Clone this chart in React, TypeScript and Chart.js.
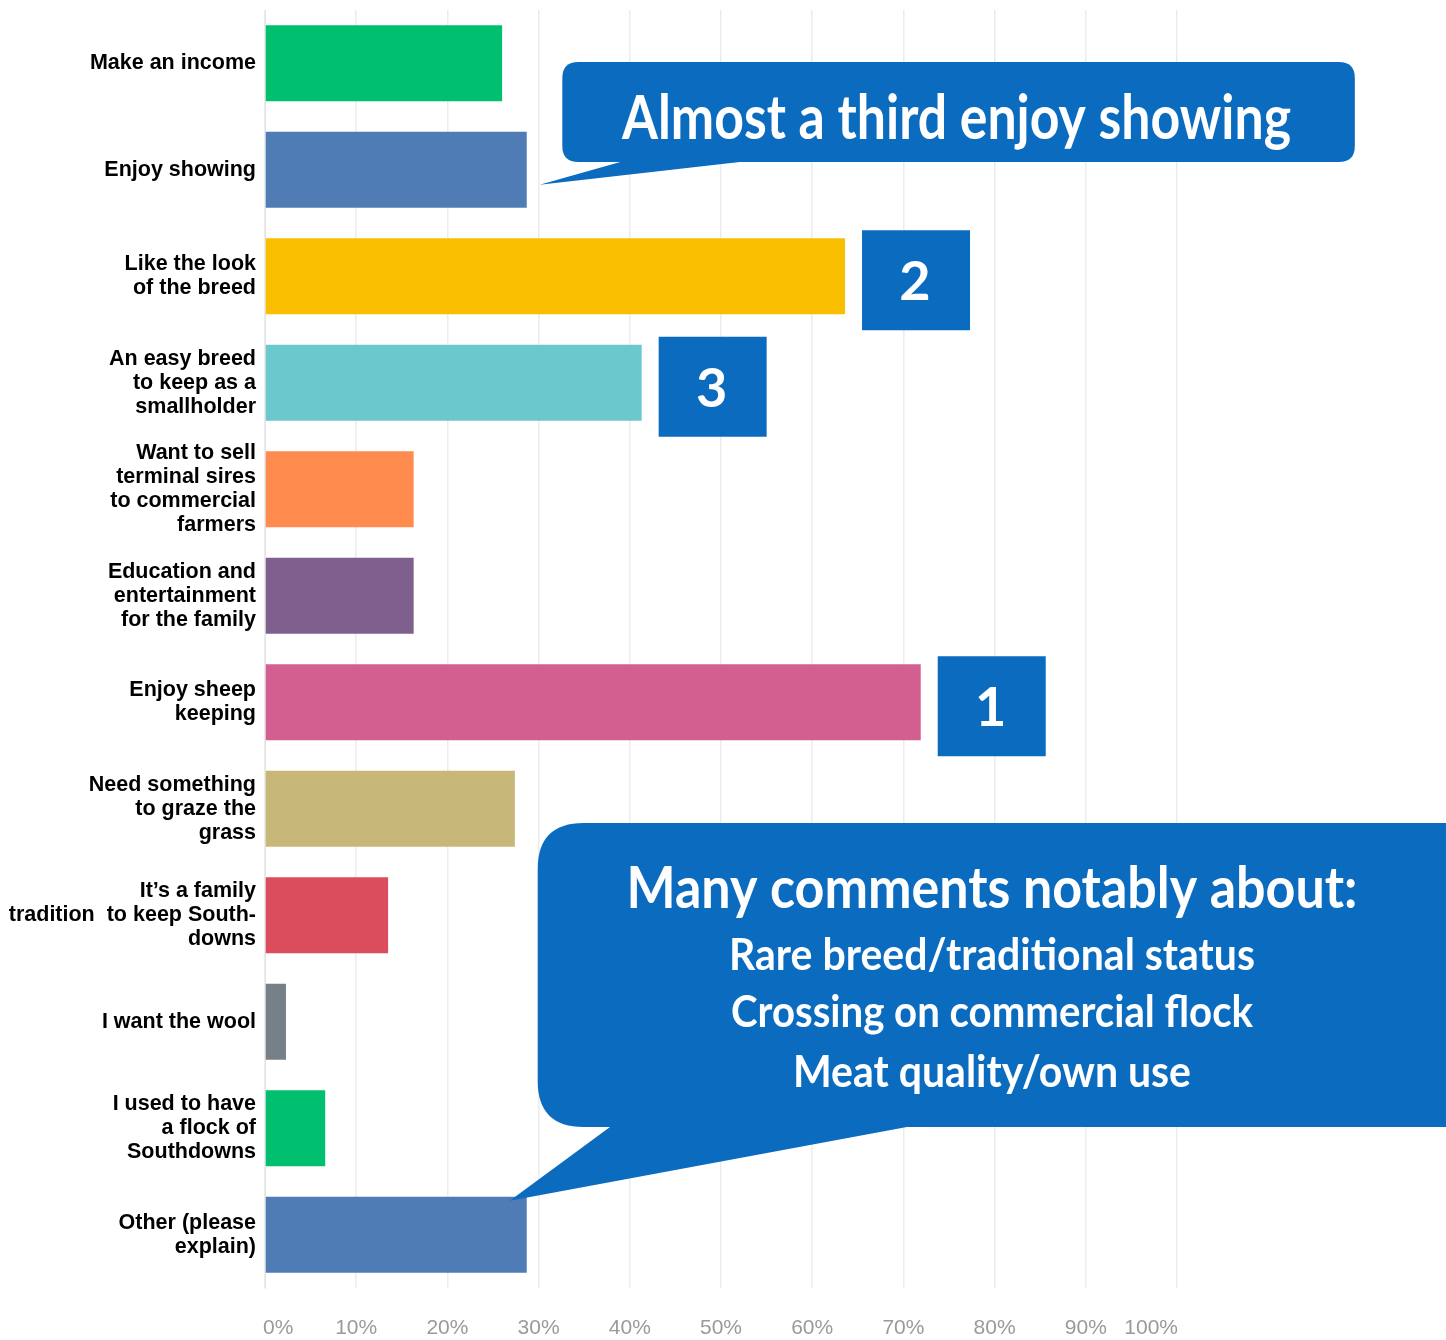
import React, { useEffect, useRef } from "react";
import { Chart, registerables } from "chart.js";

Chart.register(...registerables);

const categories: (string | string[])[] = [
  "Make an income",
  "Enjoy showing",
  ["Like the look", "of the breed"],
  ["An easy breed", "to keep as a", "smallholder"],
  ["Want to sell", "terminal sires", "to commercial", "farmers"],
  ["Education and", "entertainment", "for the family"],
  ["Enjoy sheep", "keeping"],
  ["Need something", "to graze the", "grass"],
  ["It\u2019s a family", "tradition  to keep South-", "downs"],
  "I want the wool",
  ["I used to have", "a flock of", "Southdowns"],
  ["Other (please", "explain)"],
];

const values: number[] = [26.0, 28.7, 63.6, 41.3, 16.3, 16.3, 71.9, 27.4, 13.5, 2.3, 6.6, 28.7];

const barColors: string[] = [
  "#00bf6f", "#507cb6", "#f9be00", "#6bc8cd", "#ff8b4f", "#7f5f8e",
  "#d25f90", "#c7b879", "#db4d5c", "#768086", "#00bf6f", "#507cb6",
];

const ranks: (number | null)[] = [null, null, 2, 3, null, null, 1, null, null, null, null, null];

const tickValues: number[] = [0, 10, 20, 30, 40, 50, 60, 70, 80, 90, 100];

const calloutTop: string = "Almost a third enjoy showing";
const calloutBottom: string[] = [
  "Many comments notably about:",
  "Rare breed/traditional status",
  "Crossing on commercial flock",
  "Meat quality/own use",
];

const BLUE = "#0b6cbf";

function roundRect(ctx: CanvasRenderingContext2D, x: number, y: number, w: number, h: number, r: number) {
  ctx.beginPath();
  ctx.moveTo(x + r, y);
  ctx.lineTo(x + w - r, y);
  ctx.quadraticCurveTo(x + w, y, x + w, y + r);
  ctx.lineTo(x + w, y + h - r);
  ctx.quadraticCurveTo(x + w, y + h, x + w - r, y + h);
  ctx.lineTo(x + r, y + h);
  ctx.quadraticCurveTo(x, y + h, x, y + h - r);
  ctx.lineTo(x, y + r);
  ctx.quadraticCurveTo(x, y, x + r, y);
  ctx.closePath();
}

function drawFit(ctx: CanvasRenderingContext2D, text: string, cx: number, by: number, font: string, targetW: number) {
  ctx.save();
  ctx.font = font;
  const w = ctx.measureText(text).width;
  ctx.translate(cx, by);
  ctx.scale(targetW / w, 1);
  ctx.textAlign = "center";
  ctx.textBaseline = "alphabetic";
  ctx.fillStyle = "#ffffff";
  ctx.fillText(text, 0, 0);
  ctx.restore();
}

const annotationPlugin = {
  id: "annotations",
  afterDatasetsDraw(chart: any) {
    const ctx: CanvasRenderingContext2D = chart.ctx;
    const xs = chart.scales.x;
    const ys = chart.scales.y;
    ctx.save();

    // x tick labels (ends pulled inward like the reference)
    ctx.fillStyle = "#9a9a9a";
    ctx.font = "21px 'Liberation Sans'";
    ctx.textBaseline = "middle";
    tickValues.forEach((v, i) => {
      let px = xs.getPixelForValue(v);
      ctx.textAlign = "center";
      if (i === 0) {
        ctx.textAlign = "left";
        px = px - 2;
      } else if (i === tickValues.length - 1) {
        ctx.textAlign = "right";
        px = px + 1;
      }
      ctx.fillText(v + "%", px, chart.chartArea.bottom + 40);
    });

    // rank boxes
    ranks.forEach((r, i) => {
      if (r === null) return;
      const xe = xs.getPixelForValue(values[i]);
      const yc = ys.getPixelForValue(i) + 4;
      const bx = xe + 17;
      ctx.fillStyle = BLUE;
      ctx.fillRect(bx, yc - 50, 108, 100);
      ctx.fillStyle = "#ffffff";
      ctx.font = "bold 54px Lato";
      ctx.textAlign = "center";
      ctx.textBaseline = "alphabetic";
      ctx.fillText(String(r), bx + 53, yc + 20);
    });

    // top callout, pointing at "Enjoy showing"
    const showIdx = 1;
    const tipX1 = xs.getPixelForValue(values[showIdx]) + 13;
    const tipY1 = ys.getPixelForValue(showIdx) + 15;
    const b1x = xs.getPixelForValue(32.6);
    const b1r = xs.getPixelForValue(119.5);
    const b1y = 62;
    const b1h = 100;
    ctx.fillStyle = BLUE;
    roundRect(ctx, b1x, b1y, b1r - b1x, b1h, 16);
    ctx.fill();
    ctx.beginPath();
    ctx.moveTo(b1x + 65, b1y + b1h - 2);
    ctx.lineTo(tipX1, tipY1);
    ctx.lineTo(b1x + 195, b1y + b1h - 2);
    ctx.closePath();
    ctx.fill();
    drawFit(ctx, calloutTop, (b1x + b1r) / 2 - 2, 139, "bold 62px Lato", 669);

    // bottom callout, pointing at "Other"
    const othIdx = values.length - 1;
    const tipX2 = xs.getPixelForValue(values[othIdx]) - 17;
    const tipY2 = ys.getPixelForValue(othIdx) - 34;
    const b2x = xs.getPixelForValue(29.9);
    const b2r = 1446 + 60;
    const b2y = 823;
    const b2h = 304;
    ctx.fillStyle = BLUE;
    roundRect(ctx, b2x, b2y, b2r - b2x, b2h, 46);
    ctx.fill();
    ctx.beginPath();
    ctx.moveTo(b2x + 75, b2y + b2h - 2);
    ctx.lineTo(tipX2, tipY2);
    ctx.lineTo(b2x + 380, b2y + b2h - 2);
    ctx.closePath();
    ctx.fill();
    const cx2 = 992;
    drawFit(ctx, calloutBottom[0], cx2, 908, "bold 58px Lato", 731);
    drawFit(ctx, calloutBottom[1], cx2, 970, "bold 44px Lato", 526);
    drawFit(ctx, calloutBottom[2], cx2, 1027, "bold 44px Lato", 522);
    drawFit(ctx, calloutBottom[3], cx2, 1087, "bold 44px Lato", 398);
    ctx.restore();
  },
};

export default function App() {
  const ref = useRef<HTMLCanvasElement | null>(null);
  useEffect(() => {
    if (!ref.current) return;
    const chart = new Chart(ref.current, {
      type: "bar",
      data: {
        labels: categories,
        datasets: [
          {
            data: values,
            backgroundColor: barColors,
            borderWidth: 0,
            categoryPercentage: 0.715,
            barPercentage: 1,
          },
        ],
      },
      options: {
        indexAxis: "y",
        animation: false,
        responsive: false,
        maintainAspectRatio: false,
        layout: { padding: { top: 10, right: 269, left: 0, bottom: 0 } },
        plugins: { legend: { display: false }, tooltip: { enabled: false } },
        scales: {
          x: {
            min: 0,
            max: 100,
            afterFit: (s: any) => {
              s.height = 52;
              s.paddingLeft = 0;
              s.paddingRight = 0;
            },
            afterBuildTicks: (s: any) => {
              s.ticks = tickValues.map((v) => ({ value: v }));
            },
            grid: { color: "#ececec", lineWidth: 1.5, drawTicks: false },
            border: { display: false },
            ticks: {
              display: false,
            },
          },
          y: {
            afterFit: (s: any) => {
              s.width = 265;
              s.paddingTop = 0;
              s.paddingBottom = 0;
            },
            grid: { display: false, drawTicks: false },
            border: { display: true, color: "#e4e4e4", width: 1 },
            ticks: {
              padding: 9,
              color: "#000000",
              font: { family: "Liberation Sans", size: 21.5, weight: "bold", lineHeight: 1.12 },
            },
          },
        },
      },
      plugins: [annotationPlugin],
    });
    return () => chart.destroy();
  }, []);
  return (
    <div style={{ position: "absolute", left: 0, top: 0, width: 1446, height: 1340, background: "#ffffff" }}>
      <canvas ref={ref} width={1446} height={1340} style={{ width: 1446, height: 1340, display: "block" }} />
    </div>
  );
}
